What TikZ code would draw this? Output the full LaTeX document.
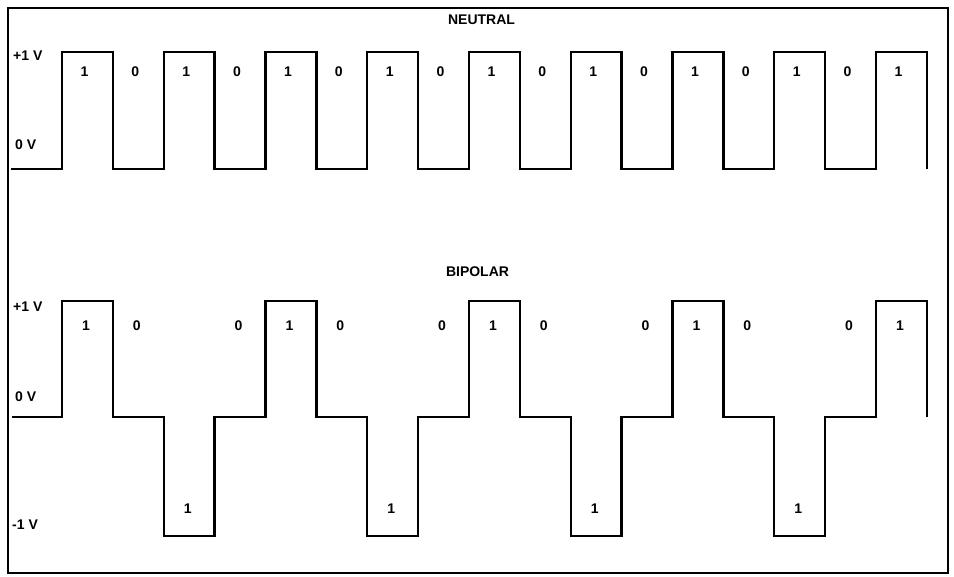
\documentclass[tikz,border=0pt]{standalone}
\usepackage{fontspec}
\setmainfont{Liberation Sans}
\begin{document}
\begin{tikzpicture}[x=1pt,y=-1pt,
  wave/.style={line width=2.4pt,line join=miter,line cap=butt},
  frame/.style={line width=1.8pt},
  lbl/.style={font=\fontsize{14}{16}\selectfont\bfseries,inner sep=0pt},
  vlbl/.style={lbl,anchor=west}]
\useasboundingbox (0,0) rectangle (954,577);
\draw[frame] (8,8) rectangle (948,573);
% titles
\node[lbl] (neutral) at (481.5,19.5) {NEUTRAL};
\node[lbl] (bipolar) at (477.5,271.5) {BIPOLAR};
% voltage labels
\node[vlbl] (tp1) at (13,56) {+1 V};
\node[vlbl] (t0) at (15,145) {0 V};
\node[vlbl] (bp1) at (13,307) {+1 V};
\node[vlbl] (b0) at (15,397) {0 V};
\node[vlbl] (bm1) at (12,525) {-1 V};
% neutral wave
\draw[wave] (11,169)
  \foreach \k in {0,...,8} {
    -- ({62+101.75*\k},169) -- ({62+101.75*\k},52)
    -- ({62+101.75*\k+50.9},52) -- ({62+101.75*\k+50.9},169)
  };
% bipolar wave
\draw[wave] (12,417)
  \foreach \k/\L in {0/301,1/536,2/301,3/536,4/301,5/536,6/301,7/536,8/301} {
    -- ({62+101.75*\k},417) -- ({62+101.75*\k},\L)
    -- ({62+101.75*\k+50.9},\L) -- ({62+101.75*\k+50.9},417)
  };
% neutral bit labels
\foreach \c in {0,...,16} {
  \pgfmathtruncatemacro{\b}{mod(\c+1,2)}
  \node[lbl] (n\c) at ({62+50.875*(\c+0.5)-3},72) {\b};
}
% bipolar bit labels
\foreach \c in {0,...,16} {
  \pgfmathtruncatemacro{\m}{mod(\c,4)}
  \ifnum\m=2
    \node[lbl] (b\c) at ({62+50.875*(\c+0.5)-1.5},509) {1};
  \else
    \pgfmathtruncatemacro{\b}{mod(\c+1,2)}
    \node[lbl] (b\c) at ({62+50.875*(\c+0.5)-1.5},326) {\b};
  \fi
}
\end{tikzpicture}
\end{document}
